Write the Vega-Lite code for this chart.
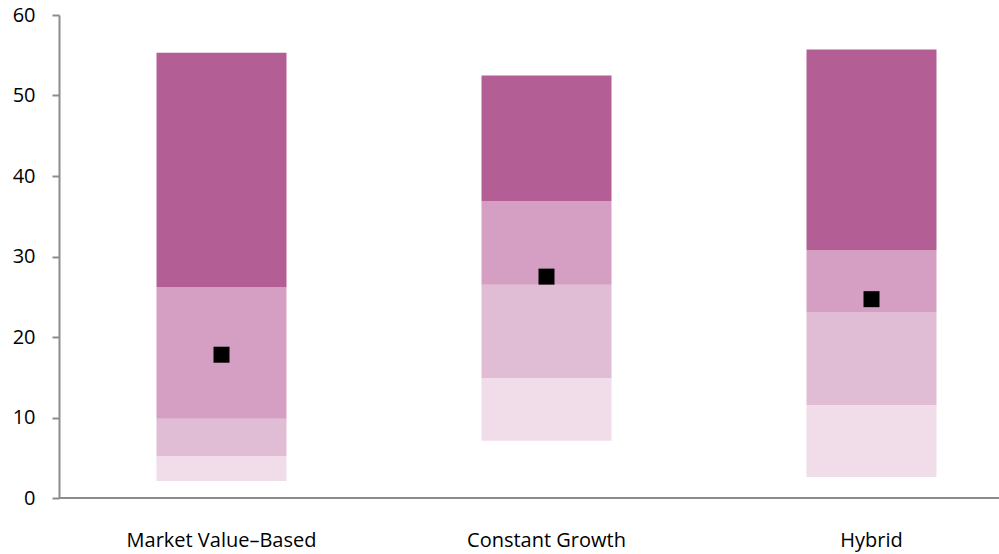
{
  "$schema": "https://vega.github.io/schema/vega-lite/v6.json",
  "width": 940,
  "height": 483,
  "autosize": {"type": "none"},
  "padding": {"left": 59, "top": 15, "right": 0, "bottom": 56},
  "background": "white",
  "config": {
    "view": {"stroke": null},
    "font": "Open Sans",
    "axis": {"labelFont": "Open Sans", "labelFontSize": 20, "labelColor": "#000000", "grid": false, "labelLimit": 400}
  },
  "datasets": {
    "segments": [
      {"method": "Market Value–Based", "band": "b1", "low": 2.1, "high": 5.2},
      {"method": "Market Value–Based", "band": "b2", "low": 5.2, "high": 9.85},
      {"method": "Market Value–Based", "band": "b3", "low": 9.85, "high": 26.2},
      {"method": "Market Value–Based", "band": "b4", "low": 26.2, "high": 55.3},
      {"method": "Constant Growth", "band": "b1", "low": 7.1, "high": 14.9},
      {"method": "Constant Growth", "band": "b2", "low": 14.9, "high": 26.5},
      {"method": "Constant Growth", "band": "b3", "low": 26.5, "high": 36.9},
      {"method": "Constant Growth", "band": "b4", "low": 36.9, "high": 52.5},
      {"method": "Hybrid", "band": "b1", "low": 2.6, "high": 11.55},
      {"method": "Hybrid", "band": "b2", "low": 11.55, "high": 23.1},
      {"method": "Hybrid", "band": "b3", "low": 23.1, "high": 30.8},
      {"method": "Hybrid", "band": "b4", "low": 30.8, "high": 55.7}
    ],
    "markers": [
      {"method": "Market Value–Based", "value": 17.8},
      {"method": "Constant Growth", "value": 27.5},
      {"method": "Hybrid", "value": 24.7}
    ]
  },
  "layer": [
    {
      "data": {"name": "segments"},
      "mark": {"type": "bar", "width": {"band": 0.4}},
      "encoding": {
        "x": {
          "field": "method", "type": "nominal", "sort": null,
          "scale": {"range": [0, 975], "paddingInner": 0, "paddingOuter": 0},
          "axis": {"title": null, "domain": false, "ticks": false, "labelPadding": 32, "labelAngle": 0, "labelLimit": 400}
        },
        "y": {
          "field": "low", "type": "quantitative",
          "scale": {"domain": [0, 60], "nice": false, "zero": true},
          "axis": {"title": null, "values": [0, 10, 20, 30, 40, 50, 60], "domainColor": "#8c8c8c", "domainWidth": 2, "tickColor": "#8c8c8c", "tickWidth": 2, "tickSize": 7, "labelPadding": 17}
        },
        "y2": {"field": "high"},
        "color": {
          "field": "band", "type": "nominal", "legend": null,
          "scale": {"domain": ["b1", "b2", "b3", "b4"], "range": ["#F0DDE9", "#E1BCD5", "#D49FC2", "#B35F96"]}
        }
      }
    },
    {
      "data": {"name": "markers"},
      "mark": {"type": "square", "size": 256, "filled": true, "color": "#000000", "opacity": 1},
      "encoding": {
        "x": {"field": "method", "type": "nominal", "sort": null},
        "y": {"field": "value", "type": "quantitative"}
      }
    },
    {
      "data": {"values": [{"v": 0}]},
      "mark": {"type": "rule", "color": "#8c8c8c", "strokeWidth": 2},
      "encoding": {"y": {"field": "v", "type": "quantitative"}}
    }
  ]
}
